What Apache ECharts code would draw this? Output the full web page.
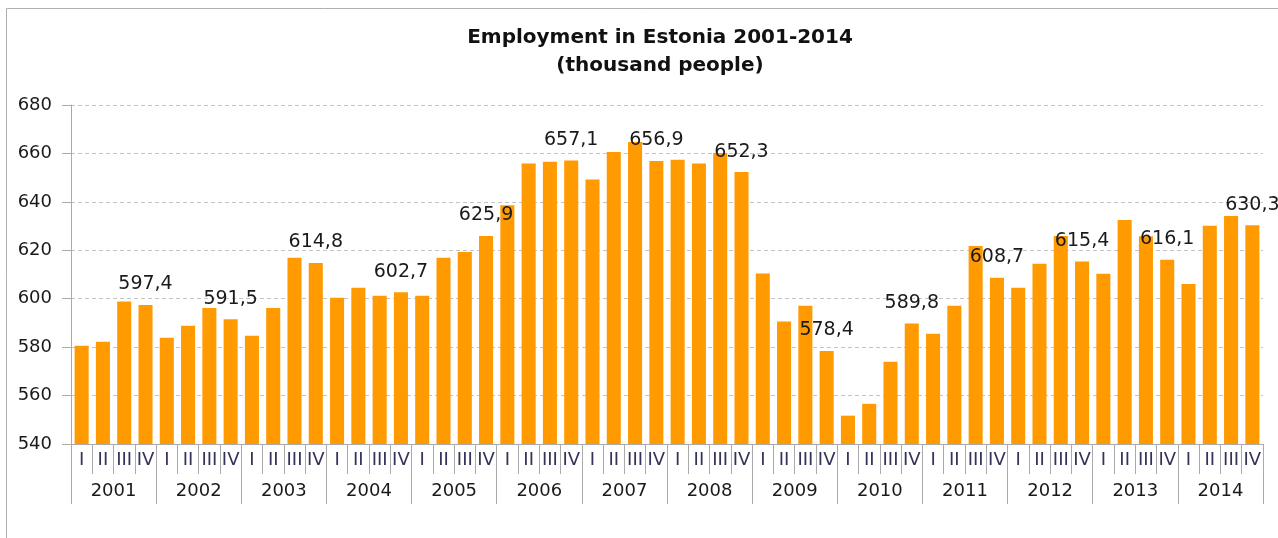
<!DOCTYPE html>
<html>
<head>
<meta charset="utf-8">
<script src="https://cdn.jsdelivr.net/npm/echarts@6/dist/echarts.min.js"></script>
<style>
    html, body { margin: 0; padding: 0; background: #fff; }
    #container { width: 1278px; height: 538px; }
</style>
</head>
<body>
<div id="container"></div>
<script>
let dom = document.getElementById("container");
let myChart = echarts.init(dom);

const years = ['2001', '2002', '2003', '2004', '2005', '2006', '2007',
    '2008', '2009', '2010', '2011', '2012', '2013', '2014'];
const quarters = ['I', 'II', 'III', 'IV'];
// employed persons, thousands, one value per quarter
const employment = [
    580.6, 582.2, 598.9, 597.4,
    583.9, 588.8, 596.2, 591.5,
    584.7, 596.2, 616.9, 614.8,
    600.4, 604.5, 601.2, 602.7,
    601.2, 616.9, 619.3, 625.9,
    638.6, 655.8, 656.6, 657.1,
    649.2, 660.6, 664.7, 656.9,
    657.4, 655.8, 660.2, 652.3,
    610.4, 590.6, 597.1, 578.4,
    551.7, 556.6, 574.0, 589.8,
    585.5, 597.1, 621.8, 608.7,
    604.5, 614.4, 625.9, 615.4,
    610.3, 632.5, 625.8, 616.1,
    606.1, 630.1, 634.2, 630.3
];
const yTicks = {min: 540, max: 680, step: 20};

let quarterCats = [];
years.forEach(function () {
    quarters.forEach(function (q) {
        quarterCats.push(q);
    });
});

const font = 'DejaVu Sans';
const gridColor = '#aaaaaa';

let option = {
    animation: false,
    backgroundColor: '#ffffff',
    title: {
        text: 'Employment in Estonia 2001-2014\n(thousand people)',
        left: 655,
        textAlign: 'center',
        top: 19,
        textStyle: {
            fontFamily: font,
            fontSize: 20,
            fontWeight: 'bold',
            color: '#111',
            lineHeight: 28
        }
    },
    graphic: [{
        type: 'rect',
        left: 4,
        top: 6,
        shape: {width: 1400, height: 700},
        style: {fill: 'none', stroke: '#b0b0b0', lineWidth: 1},
        silent: true
    }],
    grid: {
        left: 71,
        right: 15,
        top: 105,
        bottom: 94
    },
    xAxis: [{
        type: 'category',
        data: quarterCats,
        position: 'bottom',
        axisLine: {lineStyle: {color: gridColor}},
        axisTick: {show: true, interval: 0, length: 30, lineStyle: {color: gridColor}},
        axisLabel: {
            interval: 0,
            margin: 7,
            fontFamily: font,
            fontSize: 18,
            color: '#33335a'
        }
    }, {
        type: 'category',
        data: years,
        position: 'bottom',
        axisLine: {show: false},
        axisTick: {show: true, interval: 0, length: 60, lineStyle: {color: gridColor}},
        axisLabel: {
            interval: 0,
            margin: 38,
            fontFamily: font,
            fontSize: 18,
            color: '#1a1a1a'
        }
    }],
    yAxis: {
        type: 'value',
        min: yTicks.min,
        max: yTicks.max,
        interval: yTicks.step,
        axisLine: {show: true, lineStyle: {color: gridColor}},
        axisTick: {show: true, length: 9, lineStyle: {color: gridColor}},
        splitLine: {lineStyle: {color: '#c4c4c4', type: [4, 3]}},
        axisLabel: {
            margin: 19,
            fontFamily: font,
            fontSize: 18,
            color: '#1a1a1a'
        }
    },
    series: [{
        type: 'bar',
        xAxisIndex: 0,
        data: employment,
        barCategoryGap: '34%',
        itemStyle: {color: '#ff9a00'},
        label: {
            show: true,
            position: 'top',
            distance: 11,
            fontFamily: font,
            fontSize: 19,
            color: '#1a1a1a',
            formatter: function (p) {
                // only the fourth quarter of every year is labelled
                if (p.dataIndex % 4 !== 3) {
                    return '';
                }
                return p.value.toFixed(1).replace('.', ',');
            }
        }
    }]
};

if (option && typeof option === "object") {
    myChart.setOption(option, true);
}
</script>
</body>
</html>
